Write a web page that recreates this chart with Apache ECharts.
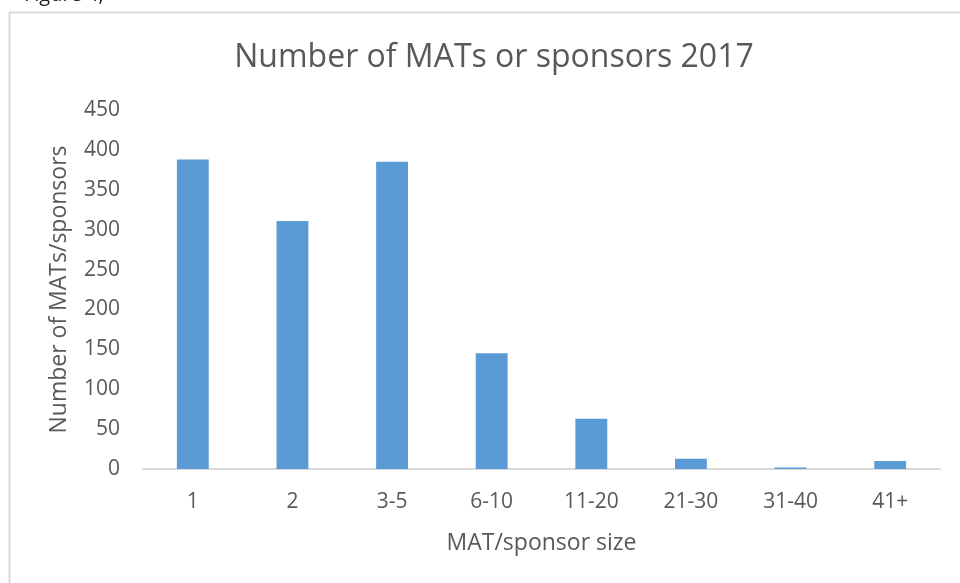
<!DOCTYPE html>
<html>
<head>
<meta charset="utf-8">
<script src="https://cdn.jsdelivr.net/npm/echarts@6/dist/echarts.min.js"></script>
<style>
  html, body { margin: 0; padding: 0; background: #fff; }
  #main { width: 960px; height: 583px; }
</style>
</head>
<body>
<div id="main"></div>
<script>
const sizes = ['1', '2', '3-5', '6-10', '11-20', '21-30', '31-40', '41+']
const counts = [388, 311, 385, 145, 63, 13, 2, 10]
const yTicks = { min: 0, max: 450, interval: 50 }

const chart = echarts.init(document.getElementById('main'))

// text colour used all over the chart
const grey = '#595959'
const font = 'Open Sans'

const option = {
  animation: false,
  textStyle: { fontFamily: font },
  title: {
    text: 'Number of MATs or sponsors 2017',
    left: 489,
    textAlign: 'center',
    top: 37,
    textStyle: { color: grey, fontSize: 32, fontWeight: 'normal', fontFamily: font }
  },
  graphic: [
    {
      type: 'rect',
      shape: { x: 9.5, y: 12.5, width: 1000, height: 700 },
      style: { fill: 'none', stroke: '#d9d9d9', lineWidth: 2 },
      silent: true
    },
    {
      type: 'text',
      x: 24,
      y: 5,
      style: {
        text: 'Figure 4,',
        fill: '#222',
        font: '20px "Open Sans"',
        verticalAlign: 'bottom'
      }
    }
  ],
  grid: { left: 143, right: 20, top: 110, bottom: 114 },
  xAxis: {
    type: 'category',
    data: sizes,
    name: 'MAT/sponsor size',
    nameLocation: 'middle',
    nameGap: 63,
    nameTextStyle: { color: grey, fontSize: 23, fontFamily: font },
    axisLine: { lineStyle: { color: '#d9d9d9', width: 2 } },
    axisTick: { show: false },
    axisLabel: { color: grey, fontSize: 21, margin: 23, fontFamily: font }
  },
  yAxis: {
    type: 'value',
    min: yTicks.min,
    max: yTicks.max,
    interval: yTicks.interval,
    name: 'Number of MATs/sponsors',
    nameLocation: 'middle',
    nameGap: 72,
    nameTextStyle: { color: grey, fontSize: 23, fontFamily: font },
    splitLine: { show: false },
    axisLine: { show: false },
    axisTick: { show: false },
    axisLabel: { color: grey, fontSize: 21, margin: 23, fontFamily: font }
  },
  series: [
    {
      type: 'bar',
      data: counts,
      barWidth: '32%',
      itemStyle: { color: '#5b9bd5' }
    }
  ]
}

chart.setOption(option)
</script>
</body>
</html>
